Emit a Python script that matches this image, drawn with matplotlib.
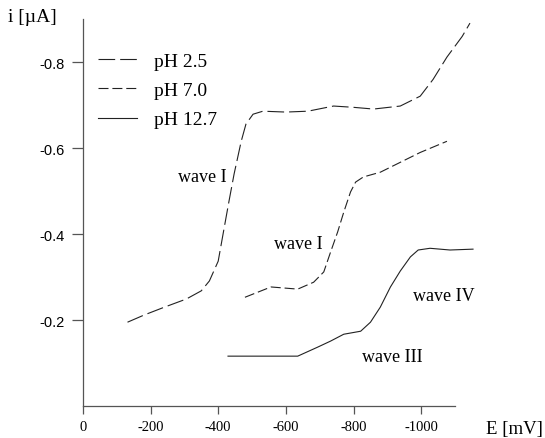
import matplotlib
matplotlib.use("Agg")
import matplotlib.pyplot as plt

# potential E [mV] and current i [uA]
e_ph25 = [-132, -182, -241, -306, -350, -374, -400, -418, -432, -447, -468, -482, -503,
          -532, -600, -665, -741, -800, -859, -938, -997, -1035, -1076, -1121, -1144]
i_ph25 = [-0.195, -0.212, -0.230, -0.249, -0.268, -0.291, -0.337, -0.416, -0.477, -0.540,
          -0.616, -0.656, -0.679, -0.686, -0.684, -0.686, -0.698, -0.695, -0.691, -0.698,
          -0.721, -0.760, -0.812, -0.860, -0.891]

e_ph70 = [-479, -556, -635, -682, -712, -732, -753, -771, -791, -806, -829, -879, -938,
          -997, -1076]
i_ph70 = [-0.253, -0.277, -0.272, -0.288, -0.312, -0.358, -0.405, -0.451, -0.498, -0.521,
          -0.533, -0.544, -0.567, -0.590, -0.616]

e_ph127 = [-429, -635, -694, -732, -771, -821, -850, -879, -909, -938, -968, -991, -1026,
           -1085, -1153]
i_ph127 = [-0.116, -0.116, -0.137, -0.151, -0.167, -0.174, -0.195, -0.230, -0.277, -0.314,
           -0.347, -0.363, -0.367, -0.363, -0.365]

x_ticks = [0, -200, -400, -600, -800, -1000]
y_ticks = [-0.2, -0.4, -0.6, -0.8]

# wave annotations: (text, E, i)
waves = [("wave I", -282, -0.533), ("wave I", -565, -0.377),
         ("wave IV", -976, -0.256), ("wave III", -826, -0.116)]

serif = "Liberation Serif"
sans = "Liberation Sans"
gray = "#555555"

fig = plt.figure(figsize=(5.45, 4.39), dpi=100)
ax = fig.add_axes([0.152, 0.0729, 0.683, 0.881])

lw = 0.8
ax.plot(e_ph25, i_ph25, color="#222222", lw=lw, dashes=(15, 4.5), label="pH 2.5", clip_on=False)
ax.plot(e_ph70, i_ph70, color="#222222", lw=lw, dashes=(9, 3.5), label="pH 7.0", clip_on=False)
ax.plot(e_ph127, i_ph127, color="#222222", lw=lw, label="pH 12.7", clip_on=False)

for txt, e, i in waves:
    ax.text(e, i, txt, family=serif, fontsize=13, ha="left", va="center")

ax.set_xlim(0, -1100)
ax.set_ylim(0, -0.9)
ax.set_xticks(x_ticks)
ax.set_xticklabels([str(v) for v in x_ticks], family=serif, fontsize=10.5)
ax.set_yticks(y_ticks)
ax.set_yticklabels([f"{v:.1f}" for v in y_ticks], family=sans, fontsize=10.5)

for side in ["top", "right"]:
    ax.spines[side].set_visible(False)
for side in ["left", "bottom"]:
    ax.spines[side].set_color(gray)
    ax.spines[side].set_linewidth(0.9)
ax.tick_params(axis="x", length=6, width=0.9, color=gray, pad=4)
ax.tick_params(axis="y", length=8, width=0.9, color=gray, pad=5)

leg = ax.legend(loc="upper left", bbox_to_anchor=(0.02, 0.935), frameon=False,
                prop={"family": serif, "size": 14}, handlelength=2.0,
                handletextpad=0.9, labelspacing=0.6, borderaxespad=0)

fig.text(8 / 545, 1 - 18 / 439, "i [\u00b5A]", family=serif, fontsize=14, va="center")
fig.text(543 / 545, 1 - 430 / 439, "E [mV]", family=serif, fontsize=13.5,
         ha="right", va="center")

fig.savefig("out.png", dpi=100)
